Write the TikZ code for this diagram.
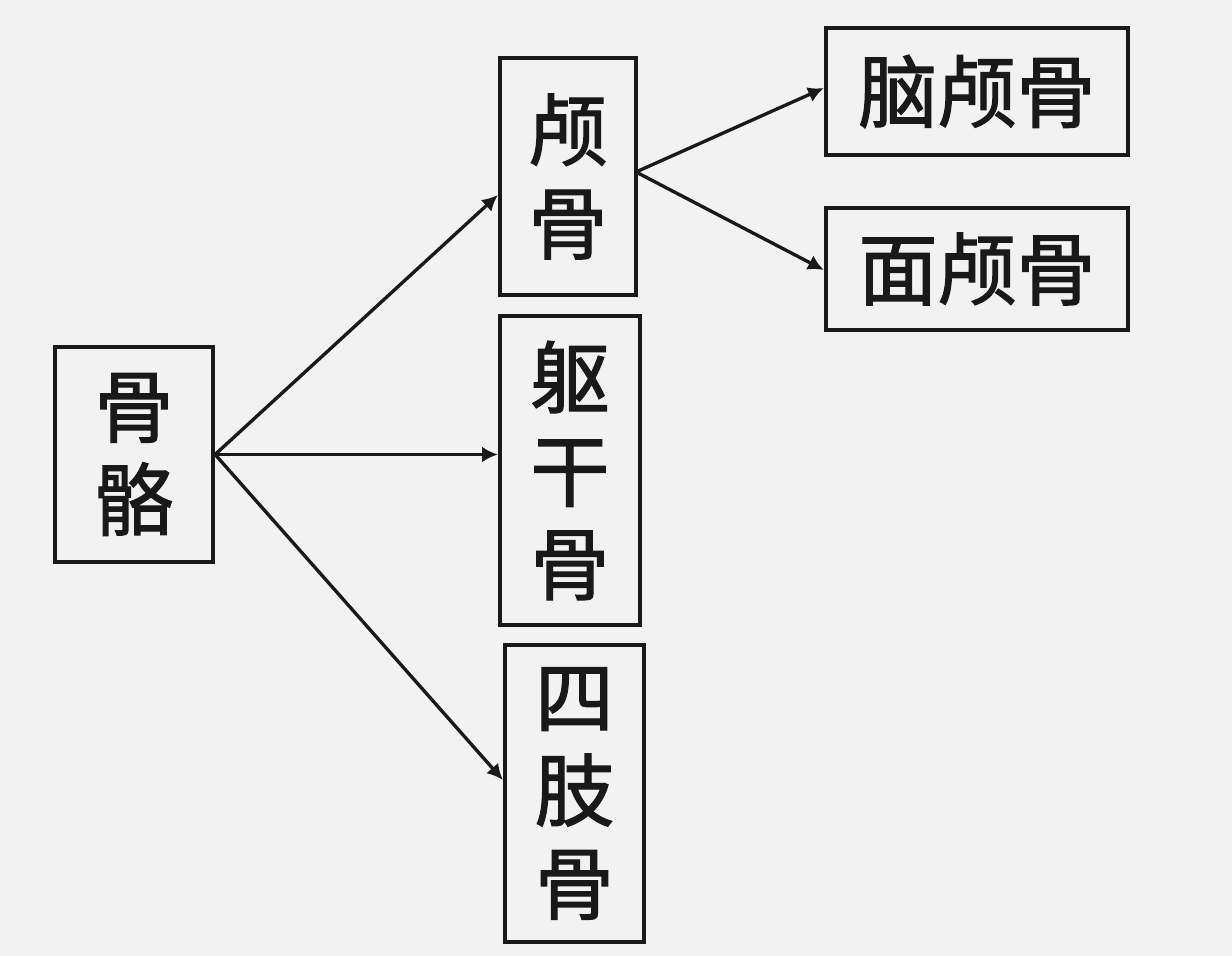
\documentclass[tikz,border=0pt]{standalone}
\usepackage{fontspec}
\newfontfamily\cjk{Noto Sans CJK SC}[FakeBold=1.6]
\usetikzlibrary{arrows.meta}
\begin{document}
\begin{tikzpicture}[x=0.02cm,y=-0.02cm,
  box/.style={draw=black!90, line width=2.4pt, inner sep=0pt, align=center,
    font=\cjk\fontsize{45}{53}\selectfont, text=black!90},
  conn/.style={line width=1.9pt, draw=black!90, -{Latex[length=9pt,width=9pt]}}]
\fill[black!5!white] (0,0) rectangle (1232,956);
\useasboundingbox (0,0) rectangle (1232,956);
\node[box, minimum width=158*0.02cm, minimum height=215*0.02cm] (gg) at (134,454.5) {骨\\骼};
\node[box, minimum width=136*0.02cm, minimum height=237*0.02cm] (lg) at (568,176.5) {颅\\骨};
\node[box, minimum width=140*0.02cm, minimum height=309*0.02cm] (qg) at (570,470.5) {躯\\干\\骨};
\node[box, minimum width=139*0.02cm, minimum height=297*0.02cm] (sz) at (574.5,793.5) {四\\肢\\骨};
\node[box, minimum width=302*0.02cm, minimum height=127*0.02cm] (nl) at (977,91.5) {脑颅骨};
\node[box, minimum width=302*0.02cm, minimum height=122*0.02cm] (ml) at (977,269) {面颅骨};
\coordinate (gr) at (gg.east);
\coordinate (lr) at (636,172);
\draw[conn] (gr) -- (lg.west |- 0,195);
\draw[conn] (gr) -- (qg.west |- gr);
\draw[conn] (gr) -- (sz.west |- 0,780);
\draw[conn] (lr) -- (nl.west |- 0,88);
\draw[conn] (lr) -- (ml.west |- 0,270);
\end{tikzpicture}
\end{document}
